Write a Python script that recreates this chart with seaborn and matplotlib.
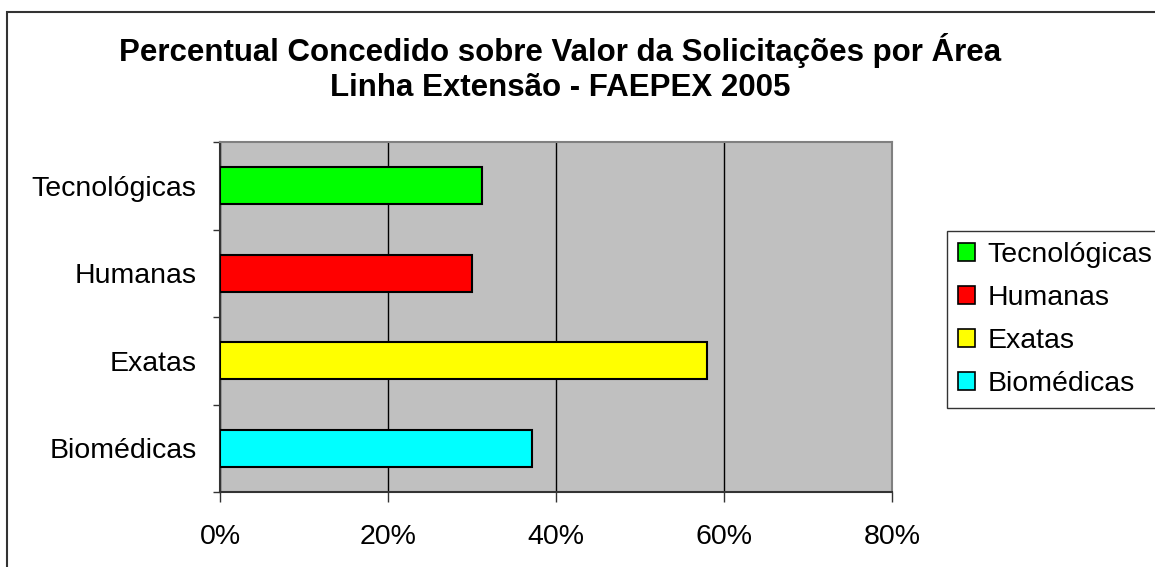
import matplotlib.pyplot as plt
import matplotlib.patches as mpatches
import pandas as pd
import seaborn as sns
from matplotlib.ticker import PercentFormatter


categories = ["Tecnológicas", "Humanas", "Exatas", "Biomédicas"]
percentages = [31.2, 30.0, 58.0, 37.2]
bar_colors = ["#00ff00", "#ff0000", "#ffff00", "#00ffff"]
x_ticks = [0, 20, 40, 60, 80]

TITLE = "Percentual Concedido sobre Valor da Solicitações por Área\nLinha Extensão - FAEPEX 2005"


def build_chart():
    df = pd.DataFrame({"area": categories, "percent": percentages})

    sns.set_theme(style="white", rc={"text.color": "black", "xtick.color": "black", "ytick.color": "black"})
    plt.rcParams["font.family"] = ["Liberation Sans", "DejaVu Sans"]

    fig = plt.figure(figsize=(11.55, 5.67), dpi=100)
    ax = fig.add_axes([220 / 1155, 1 - 492 / 567, 672 / 1155, 350 / 567])
    ax.set_facecolor("#c0c0c0")

    sns.barplot(
        data=df, x="percent", y="area", hue="area", order=categories,
        palette=bar_colors, saturation=1, width=0.42, edgecolor="black",
        linewidth=1.5, legend=False, ax=ax, zorder=3,
    )

    ax.set_xlim(0, 80)
    ax.set_ylim(3.5, -0.5)
    ax.set_xticks(x_ticks)
    ax.xaxis.set_major_formatter(PercentFormatter(decimals=0))
    ax.grid(axis="x", color="black", linewidth=1, zorder=1)
    ax.set_axisbelow(True)

    # excel style: ticks between categories, labels centred
    ax.set_yticks([-0.5, 0.5, 1.5, 2.5, 3.5])
    ax.set_yticklabels([])
    ax.set_yticks(range(len(categories)), minor=True)
    ax.set_yticklabels(categories, minor=True)
    ax.tick_params(axis="y", which="major", left=True, length=5, width=1,
                   color="#333333", direction="out")
    ax.tick_params(axis="y", which="minor", left=False, length=0, pad=17, labelsize=20.5)
    ax.tick_params(axis="x", bottom=True, length=7, width=1, color="#333333",
                   direction="out", pad=16, labelsize=20.5)
    ax.set_xlabel("")
    ax.set_ylabel("")

    for side in ["left", "bottom"]:
        ax.spines[side].set_color("#333333")
        ax.spines[side].set_linewidth(1.5)
    for side in ["top", "right"]:
        ax.spines[side].set_color("#808080")
        ax.spines[side].set_linewidth(1.5)

    fig.text(560 / 1155, 1 - 68 / 567, TITLE, ha="center", va="center",
             fontsize=22.5, fontweight="bold", linespacing=1.2)

    handles = [mpatches.Patch(facecolor=c, edgecolor="black", linewidth=1.2) for c in bar_colors]
    leg = fig.legend(
        handles, categories, loc="upper left", bbox_to_anchor=(947 / 1155, 1 - 231 / 567),
        frameon=True, fancybox=False, fontsize=20.5, handlelength=0.6, handleheight=0.6,
        handletextpad=0.42, labelspacing=0.59, borderpad=0.4, borderaxespad=0,
    )
    leg.get_frame().set_edgecolor("black")
    leg.get_frame().set_linewidth(1)

    fig.patches.append(mpatches.Rectangle(
        (7 / 1155, -0.1), 1.2, 1 - 12 / 567 + 0.1, transform=fig.transFigure,
        fill=False, edgecolor="#333333", linewidth=1.5,
    ))

    fig.savefig("out.png", dpi=100)
    plt.close(fig)


if __name__ == "__main__":
    build_chart()
